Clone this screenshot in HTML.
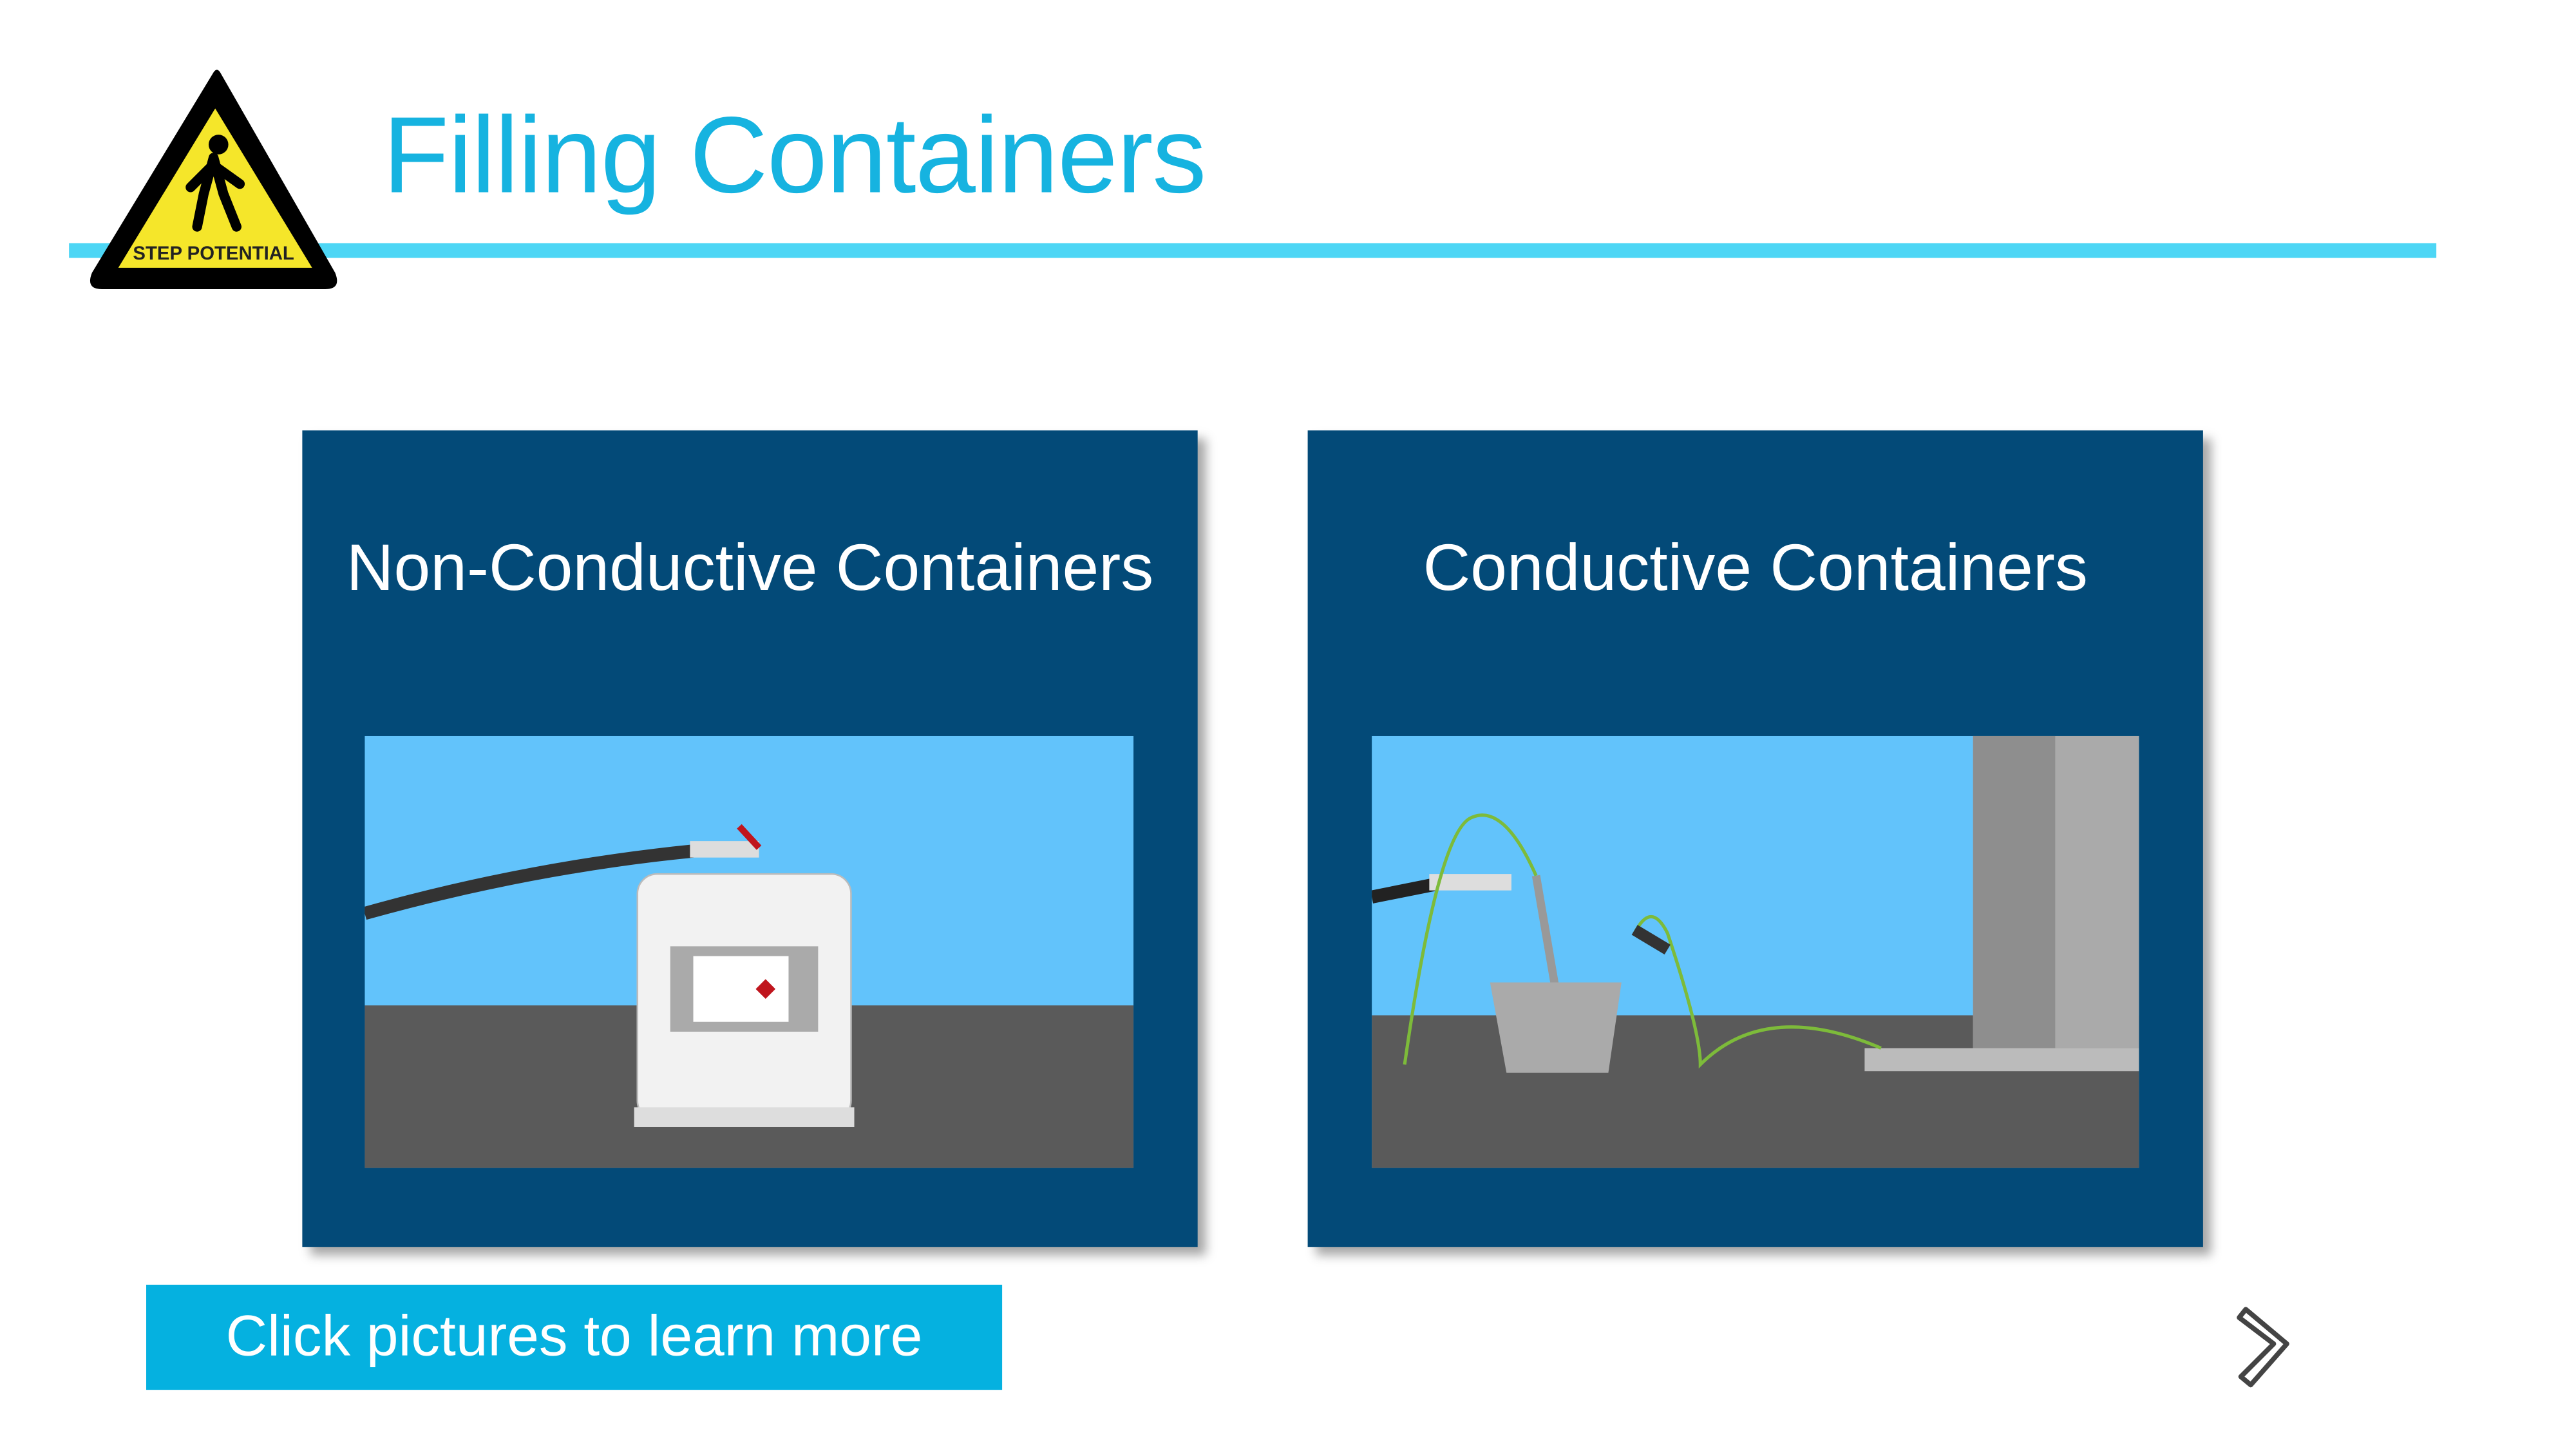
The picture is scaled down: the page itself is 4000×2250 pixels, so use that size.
<!DOCTYPE html>
<html><head><meta charset="utf-8"><style>
html,body{margin:0;padding:0;background:#fff;overflow:hidden}
#s{position:absolute;left:0;top:0;width:1568px;height:882px;transform:scale(2.551);transform-origin:0 0;font-family:"Liberation Sans",sans-serif}
.a{position:absolute}
.card{background:#034a78;box-shadow:5px 5px 6px rgba(0,0,0,.35)}
.ct{color:#fff;font-size:40px;text-align:center;width:100%;top:62px}
</style></head><body><div id="s">
<div class="a" style="left:42px;top:148px;width:1441px;height:9px;background:#4dd6f5"></div>
<svg class="a" style="left:50px;top:38px" width="165" height="145" viewBox="0 0 165 145">
<path d="M80 6 Q82 3 84 6 L154 128 Q158 138 148 138 L12 138 Q2 138 6 128 Z" fill="#000"/>
<path d="M81 28 L140 125 L22 125 Z" fill="#f5e62a"/>
<circle cx="83" cy="50" r="6" fill="#000"/>
<path d="M80 58 L74 80 L70 100 M80 58 L86 80 L94 100 M78 64 L66 76 M82 64 L96 74" stroke="#000" stroke-width="6" fill="none" stroke-linecap="round"/>
<text x="80" y="120" font-size="11.5" font-family="Liberation Sans" text-anchor="middle" font-weight="bold" fill="#222">STEP POTENTIAL</text>
</svg>
<div class="a" style="left:233px;top:56px;font-size:66px;color:#16b3e0;letter-spacing:-0.5px">Filling Containers</div>

<div class="a card" style="left:184px;top:262px;width:545px;height:497px">
<div class="a ct">Non-Conductive Containers</div>
<svg class="a" style="left:38px;top:186px" width="468" height="263">
<rect width="468" height="263" fill="#62c3fb"/><rect y="164" width="468" height="99" fill="#5a5a5a"/>
<path d="M0 108 Q100 80 200 70" stroke="#333" stroke-width="8" fill="none"/>
<rect x="198" y="64" width="42" height="10" fill="#ddd"/><path d="M228 55 L240 68" stroke="#c0151d" stroke-width="4"/>
<rect x="166" y="84" width="130" height="150" rx="12" fill="#f2f2f2" stroke="#bbb"/>
<rect x="186" y="128" width="90" height="52" fill="#aaa"/><rect x="200" y="134" width="58" height="40" fill="#fff"/>
<path d="M244 148 l6 6 -6 6 -6 -6z" fill="#c0151d"/>
<rect x="164" y="226" width="134" height="12" fill="#ddd"/>
</svg></div>

<div class="a card" style="left:796px;top:262px;width:545px;height:497px">
<div class="a ct">Conductive Containers</div>
<svg class="a" style="left:39px;top:186px" width="467" height="263">
<rect width="467" height="263" fill="#62c3fb"/><rect y="170" width="467" height="93" fill="#5a5a5a"/>
<rect x="366" y="0" width="101" height="190" fill="#aaa"/><rect x="366" y="0" width="50" height="190" fill="#8e8e8e"/>
<rect x="300" y="190" width="167" height="14" fill="#bbb"/>
<path d="M0 98 L40 90" stroke="#222" stroke-width="8"/><rect x="35" y="84" width="50" height="10" fill="#ddd"/>
<path d="M100 85 L112 155" stroke="#999" stroke-width="5"/>
<path d="M72 150 L152 150 L144 205 L82 205 Z" fill="#aaa"/>
<path d="M20 200 Q40 60 60 50 Q80 40 100 85 M160 120 Q170 100 180 120 Q200 180 200 200 Q240 160 310 190" stroke="#7dbb3a" stroke-width="2" fill="none"/>
<path d="M160 118 L180 130" stroke="#333" stroke-width="7"/>
</svg></div>

<div class="a" style="left:89px;top:782px;width:521px;height:64px;background:#05b1e0;color:#fff;font-size:35px;line-height:64px;text-align:center">Click pictures to learn more</div>
<svg class="a" style="left:1360px;top:793px" width="40" height="55"><path d="M7 4 L32 25 L10 50 L4 45 L24 25 L3 9 Z" fill="none" stroke="#444" stroke-width="3" stroke-linejoin="round"/></svg>
</div></body></html>
